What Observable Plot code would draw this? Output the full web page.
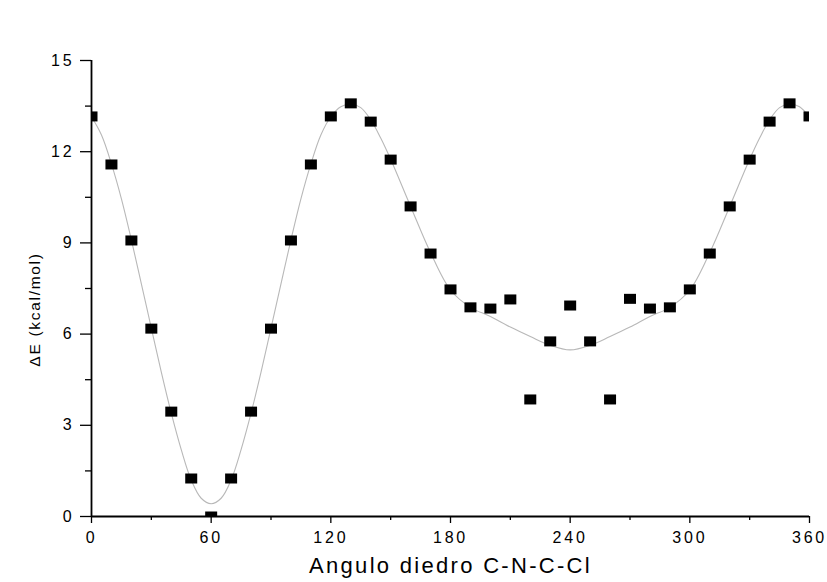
<!DOCTYPE html>
<html>
<head>
<meta charset="utf-8">
<script src="https://cdn.jsdelivr.net/npm/d3@7"></script>
<script src="https://cdn.jsdelivr.net/npm/@observablehq/plot@0.6"></script>
<style>
  html, body { margin: 0; padding: 0; background: #fff; }
  #wrap { position: relative; width: 827px; height: 582px; font-family: "Liberation Sans", Arial, sans-serif; }
  #legend { position: absolute; left: 705px; top: 8px; height: 26px; display: flex; align-items: center; font-size: 18px; color: #000; }
  #legend .sw { width: 12px; height: 9px; background: #000; margin-right: 31px; }
  g[aria-label="x-axis tick label"] text, g[aria-label="y-axis tick label"] text { letter-spacing: 2.8px; font-size: 16px; }
</style>
</head>
<body>
<div id="wrap">
  <div id="legend"><div class="sw"></div><span>5</span></div>
</div>
<script>
// Data points (dihedral angle in degrees, energy in kcal/mol)
const angles = [0,10,20,30,40,50,60,70,80,90,100,110,120,130,140,150,160,170,180,190,200,210,220,230,240,250,260,270,280,290,300,310,320,330,340,350,360];
const energies = [13.16,11.58,9.08,6.18,3.45,1.25,0.0,1.25,3.45,6.18,9.08,11.58,13.16,13.59,12.99,11.74,10.2,8.65,7.47,6.88,6.84,7.14,3.85,5.76,6.94,5.76,3.85,7.16,6.84,6.88,7.47,8.65,10.2,11.74,12.99,13.59,13.16];

// Fitted curve
const curveAngles = [0,5,10,15,20,25,30,35,40,45,50,55,60,65,70,75,80,85,90,95,100,105,110,115,120,125,130,135,140,145,150,160,170,180,190,200,210,220,230,240,250,260,270,280,290,300,310,320,330,335,340,345,350,355,360];
const curveEnergies = [13.15,12.55,11.6,10.45,9.1,7.65,6.2,4.75,3.4,2.2,1.2,0.6,0.42,0.6,1.2,2.2,3.4,4.75,6.2,7.65,9.1,10.45,11.6,12.55,13.15,13.48,13.57,13.45,13.05,12.45,11.75,10.2,8.68,7.45,6.88,6.58,6.23,5.92,5.63,5.48,5.63,5.92,6.23,6.58,6.88,7.45,8.68,10.2,11.75,12.45,13.05,13.45,13.57,13.48,13.13];

// Axis ticks
const xTicks = [0,60,120,180,240,300,360];
const xMinorTicks = [30,90,150,210,270,330];
const yTicks = [0,3,6,9,12,15];
const yMinorTicks = [1.5,4.5,7.5,10.5,13.5];

const xTitle = "Angulo diedro C-N-C-Cl";
const yTitle = "ΔE (kcal/mol)";

const points = angles.map((a, i) => ({angle: a, energy: energies[i]}));
const fit = curveAngles.map((a, i) => ({angle: a, energy: curveEnergies[i]}));

const rectSymbol = {
  draw(context) {
    context.moveTo(-6, -5);
    context.lineTo(6, -5);
    context.lineTo(6, 5);
    context.lineTo(-6, 5);
    context.closePath();
  }
};

const chart = Plot.plot({
  width: 827,
  height: 582,
  marginLeft: 91,
  marginRight: 18,
  marginTop: 60,
  marginBottom: 66,
  style: {fontFamily: '"Liberation Sans", Arial, sans-serif', fontSize: "16px", color: "#000", background: "#fff"},
  x: {domain: [0, 360]},
  y: {domain: [0, 15]},
  marks: [
    Plot.line(fit, {x: "angle", y: "energy", curve: "catmull-rom", stroke: "#b8b8b8", strokeWidth: 1.1, clip: true}),
    Plot.dot(points, {x: "angle", y: "energy", symbol: rectSymbol, fill: "#000", stroke: "none", clip: true}),
    Plot.axisX({ticks: xTicks, tickSize: 7, tickPadding: 8, strokeWidth: 1.3, label: null, tickFormat: d => String(d), fontSize: 16}),
    Plot.axisX({ticks: xMinorTicks, tickSize: 4, strokeWidth: 1.3, text: null, label: null}),
    Plot.axisY({ticks: yTicks, tickSize: 11, tickPadding: 6, strokeWidth: 1.3, label: null, tickFormat: d => String(d), fontSize: 16}),
    Plot.axisY({ticks: yMinorTicks, tickSize: 6, strokeWidth: 1.3, text: null, label: null}),
    Plot.ruleX([0], {strokeWidth: 1.8}),
    Plot.ruleY([0], {strokeWidth: 1.8}),
    Plot.text([xTitle], {frameAnchor: "bottom", dy: 56, fontSize: 22}),
    Plot.text([yTitle], {frameAnchor: "top-left", rotate: -90, fontSize: 15.5, textAnchor: "middle"})
  ]
});

document.getElementById("wrap").appendChild(chart);
chart.style.position = "absolute";
chart.style.left = "0";
chart.style.top = "0";

// Title styling / placement relative to the frame
d3.select(chart).selectAll("text").each(function () {
  const t = d3.select(this);
  if (this.textContent === xTitle) {
    t.style("letter-spacing", "2.3px").style("font-size", "22px");
  } else if (this.textContent === yTitle) {
    t.style("letter-spacing", "1.7px").style("font-size", "15.5px")
     .attr("text-anchor", "middle")
     .attr("transform", "translate(28,309) rotate(-90)");
  }
});
</script>
</body>
</html>
